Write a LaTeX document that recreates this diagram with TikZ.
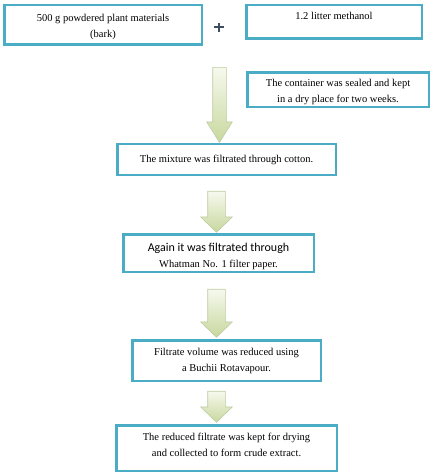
\documentclass[tikz,border=0pt]{standalone}
\usepackage{fontspec}
\setmainfont{Liberation Serif}
\newfontfamily\calibri{Carlito}
\usepackage{xcolor}
\usepackage{tikz}
\usetikzlibrary{shapes.arrows}

\definecolor{boxblue}{RGB}{75,172,198}
\definecolor{arrowtop}{RGB}{246,249,238}
\definecolor{arrowbot}{RGB}{200,216,158}
\definecolor{arrowline}{RGB}{190,204,160}
\definecolor{plusgray}{RGB}{62,76,96}

\tikzset{
  stepbox/.style={draw=boxblue, line width=2.5pt, rectangle, align=center,
    inner sep=2pt, font=\fontsize{10.5}{16}\selectfont},
  downarrow/.style={single arrow, draw=arrowline, line width=0.6pt,
    top color=arrowtop, bottom color=arrowbot, shape border rotate=270,
    single arrow head indent=0pt, minimum width=0pt},
  plussign/.style={minimum width=10pt, minimum height=9pt, inner sep=0pt,
    path picture={\draw[plusgray, line width=2pt]
      (path picture bounding box.north) -- (path picture bounding box.south)
      (path picture bounding box.west) -- (path picture bounding box.east);}}
}

\begin{document}
\begin{tikzpicture}[x=1pt,y=-1pt]
\useasboundingbox (0,0) rectangle (433,473);

% top row
\node[stepbox, minimum width=197.5pt, minimum height=39.5pt, text height=27pt] (plant) at (103,25)
  {500 g powdered plant materials\\(bark)};
\node[plussign] (plus) at (219,27.5) {};
\node[stepbox, minimum width=175.5pt, minimum height=33.5pt, text depth=13pt] (methanol) at (334,22)
  {1.2 litter methanol};

\node[stepbox, minimum width=181.5pt, minimum height=34.5pt, text height=28pt] (sealed) at (338,90)
  {The container was sealed and kept\\in a dry place for two weeks.};

% steps
\node[stepbox, minimum width=218.5pt, minimum height=30.5pt] (cotton) at (226.5,159.5)
  {The mixture was filtrated through cotton.};
\node[stepbox, minimum width=190.5pt, minimum height=37.5pt, text height=30.5pt] (whatman) at (218.5,253)
  {{\calibri\fontsize{12}{16}\selectfont Again it was filtrated through}\\Whatman No. 1 filter paper.};
\node[stepbox, minimum width=188.5pt, minimum height=40.5pt] (rotavap) at (226.5,360.5)
  {Filtrate volume was reduced using\\a Buchii Rotavapour.};
\node[stepbox, minimum width=220.5pt, minimum height=45.5pt, text depth=6.5pt] (crude) at (226.5,448)
  {The reduced filtrate was kept for drying\\and collected to form crude extract.};

% arrows
\node[downarrow, inner sep=6.5pt, single arrow head extend=6pt, single arrow tip angle=64,
  minimum height=75pt] (arr1) at (219.5,99.5) {};
\node[downarrow, inner sep=8.5pt, single arrow head extend=7pt, single arrow tip angle=92,
  minimum height=41pt] (arr2) at (216.5,207.5) {};
\node[downarrow, inner sep=8.5pt, single arrow head extend=7pt, single arrow tip angle=92,
  minimum height=48pt] (arr3) at (216.5,309) {};
\node[downarrow, inner sep=8.5pt, single arrow head extend=7pt, single arrow tip angle=92,
  minimum height=31pt] (arr4) at (216.5,402.5) {};

\end{tikzpicture}
\end{document}
